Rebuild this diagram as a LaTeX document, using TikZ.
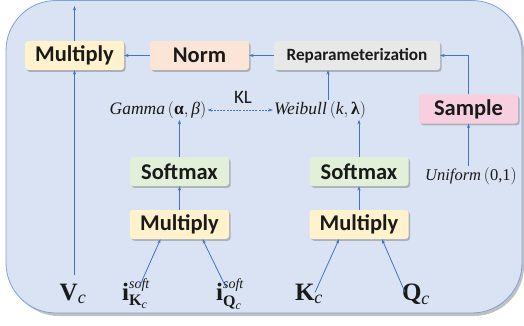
\documentclass[tikz,border=0pt]{standalone}
\usepackage{amsmath}
\usepackage{fontspec}
\setmainfont{Liberation Serif}
\newfontfamily\boxfont{Carlito}
\usetikzlibrary{arrows.meta,shadows,calc}
\definecolor{bgfill}{HTML}{DAE3F3}
\definecolor{bgline}{HTML}{7FA0D6}
\definecolor{arr}{HTML}{4472C4}
\definecolor{cmul}{HTML}{FFF2CC}
\definecolor{cnorm}{HTML}{FBE5D6}
\definecolor{crep}{HTML}{E9E8E8}
\definecolor{csam}{HTML}{F8CFDF}
\definecolor{csoft}{HTML}{E2F0D9}
\definecolor{txt}{HTML}{1A1A1A}
\newcommand{\fs}[1]{\fontsize{#1}{#1}\selectfont}
\tikzset{
  opbox/.style={rounded corners=3pt, minimum width=99pt, minimum height=29pt,
    inner sep=0pt, text=txt, font=\boxfont\bfseries\fontsize{22.5}{24}\selectfont,
    drop shadow={opacity=0.5, shadow xshift=1.6pt, shadow yshift=-1.8pt}},
  mathlbl/.style={inner sep=1pt, text=txt, font=\fontsize{17.5}{19}\selectfont},
  inlbl/.style={inner sep=0pt, text=txt, font=\fontsize{25}{26}\selectfont},
  flow/.style={draw=arr, line width=0.8pt, -{Stealth[length=4.5pt,width=3.2pt]}},
}
\begin{document}
\begin{tikzpicture}[x=1pt,y=-1pt]
\useasboundingbox (0,0) rectangle (524,326);
\clip (0,0) rectangle (524,326);
% background panel
\fill[gray!70, opacity=0.7, rounded corners=50pt] (9,2) rectangle (524,316);
\filldraw[fill=bgfill, draw=bgline, line width=0.8pt, rounded corners=50pt] (6,0.5) rectangle (522,313);
% boxes
\node[opbox, fill=cmul] (mtop) at (74.5,55.5) {Multiply};
\node[opbox, fill=cnorm] (norm) at (199.5,55.5) {Norm};
\node[opbox, fill=crep, minimum width=166pt, font=\boxfont\bfseries\fontsize{17.2}{19}\selectfont] (rep) at (357,55.5) {Reparameterization};
\node[opbox, fill=csam] (samp) at (468.5,109) {Sample};
\node[opbox, fill=csoft] (softl) at (179.5,171.5) {Softmax};
\node[opbox, fill=cmul] (mull) at (179.5,224.5) {Multiply};
\node[opbox, fill=csoft] (softr) at (359,171.5) {Softmax};
\node[opbox, fill=cmul] (mulr) at (359,224.5) {Multiply};
% math labels
\node[mathlbl] (gam) at (158,110) {$\textit{Gamma}\left(\textbf{α},\textit{β}\right)$};
\node[mathlbl] (wei) at (320,110) {$\textit{Weibull}\left(\textit{k},\textbf{λ}\right)$};
\node[mathlbl, font=\fontsize{16.5}{18}\selectfont] (uni) at (471,176) {$\textit{Uniform}\left(\text{0,1}\right)$};
\node[inner sep=0pt, text=txt, font=\boxfont\fontsize{19}{21}\selectfont] (kl) at (243,97) {KL};
% inputs
\node[inlbl, anchor=base] (vc) at (73,300) {$\textbf{V}_{\text{\fs{18}\itshape c}}$};
\node[inlbl, anchor=base] (ik) at (136,300) {$\textbf{i}^{\text{\fs{14}\itshape soft}}_{\text{\fs{16}\bfseries K}_{\text{\fs{12}\itshape c}}}$};
\node[inlbl, anchor=base] (iq) at (230,300) {$\textbf{i}^{\text{\fs{14}\itshape soft}}_{\text{\fs{16}\bfseries Q}_{\text{\fs{12}\itshape c}}}$};
\node[inlbl, anchor=base] (kc) at (309,300) {$\textbf{K}_{\text{\fs{18}\itshape c}}$};
\node[inlbl, anchor=base] (qc) at (416,300) {$\textbf{Q}_{\text{\fs{18}\itshape c}}$};
\coordinate (out) at (74.5,6);
% connectors
\draw[flow] (vc.north -| mtop.south) ++(0,-8) -- (mtop.south);
\draw[flow] (mtop.north) -- (out);
\draw[flow] (norm.west) -- (mtop.east);
\draw[flow] (rep.west) -- (norm.east);
\draw[flow] (samp.north) |- (rep.east);
\draw[flow] (uni.north -| samp.south) -- (samp.south);
\draw[flow] ($(wei.north)+(8,0)$) -- (rep.south -| {$(wei.north)+(8,0)$});
\draw[flow] (softr.north) -- (softr.north |- wei.south);
\draw[flow] (softl.north) -- (softl.north |- gam.south);
\draw[flow] (mull.north) -- (softl.south);
\draw[flow] (mulr.north) -- (softr.south);
\draw[flow, dashed, dash pattern=on 2pt off 1.2pt, {Stealth[length=4.5pt,width=3.2pt]}-{Stealth[length=4.5pt,width=3.2pt]}] (wei.west) -- (gam.east);
\draw[flow] ($(ik.north)+(3,9)$) -- ($(mull.south)+(-19,0)$);
\draw[flow] ($(iq.north)+(-4,9)$) -- ($(mull.south)+(23,0)$);
\draw[flow] ($(kc.north)+(6,9)$) -- ($(mulr.south)+(-20,0)$);
\draw[flow] ($(qc.north)+(-11,9)$) -- ($(mulr.south)+(23,0)$);
\end{tikzpicture}
\end{document}
